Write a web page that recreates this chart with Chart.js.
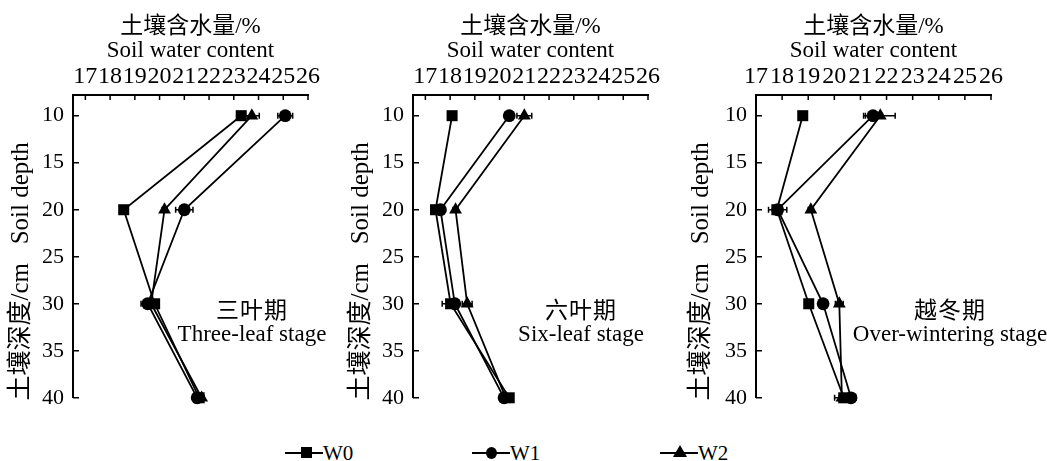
<!DOCTYPE html>
<html>
<head>
<meta charset="utf-8">
<script src="https://cdn.jsdelivr.net/npm/chart.js@4.4.0/dist/chart.umd.min.js"></script>
<style>
  body { margin: 0; background: #fff; }
  #wrap { position: relative; width: 1047px; height: 461px; overflow: hidden;
          font-family: 'Liberation Serif', 'Noto Sans CJK SC', serif; color: #000; }
  .pane { position: absolute; top: 0; height: 420px; }
  .stage { position: absolute; font-size: 23px; line-height: 23px; text-align: center;
           white-space: nowrap; transform: translateX(-50%); }
  .stage .cn { letter-spacing: 1px; }
  .leg { position: absolute; top: 441px; height: 24px; font-size: 21px; line-height: 24px; white-space: nowrap; }
  .leg .ln { position: absolute; top: 11px; left: 0; width: 38px; height: 2px; background: #000; }
  .leg .tx { position: absolute; left: 38px; top: 0; }
  .sq { position: absolute; width: 11px; height: 11px; background: #000; top: 6px; }
  .ci { position: absolute; width: 11px; height: 12px; border-radius: 50%; background: #000; top: 6px; }
  .tr { position: absolute; width: 0; height: 0; border-left: 7px solid transparent;
        border-right: 7px solid transparent; border-bottom: 12px solid #000; top: 4px; }
</style>
</head>
<body>
<div id="wrap">
  <canvas id="c1" class="pane" style="left:0px;width:340px"></canvas>
  <canvas id="c2" class="pane" style="left:340px;width:340px"></canvas>
  <canvas id="c3" class="pane" style="left:680px;width:367px"></canvas>

  <div class="stage" style="left:252px;top:299px"><span class="cn">三叶期</span><br>Three-leaf stage</div>
  <div class="stage" style="left:581px;top:299px"><span class="cn">六叶期</span><br>Six-leaf stage</div>
  <div class="stage" style="left:950px;top:299px"><span class="cn">越冬期</span><br>Over-wintering stage</div>

  <div class="leg" style="left:285px"><span class="ln"></span><span class="sq" style="left:16px"></span><span class="tx">W0</span></div>
  <div class="leg" style="left:472px"><span class="ln"></span><span class="ci" style="left:14px"></span><span class="tx">W1</span></div>
  <div class="leg" style="left:660px"><span class="ln"></span><span class="tr" style="left:13px"></span><span class="tx">W2</span></div>
</div>

<script>
// depth (cm) and tick labels
const depth = [10, 20, 30, 40];
const xTicks = [17, 18, 19, 20, 21, 22, 23, 24, 25, 26];
const yTicks = [10, 15, 20, 25, 30, 35, 40];

// three-leaf stage (soil water content %)
const three_W0 = [23.3, 18.55, 19.8, 21.6];
const three_W1 = [25.08, 21.0, 19.52, 21.52];
const three_W2 = [23.73, 20.2, 19.66, 21.7];
const three_W0_err = [0.1, 0.1, 0.15, 0.1];
const three_W1_err = [0.3, 0.35, 0.27, 0.1];
const three_W2_err = [0.3, 0.1, 0.1, 0.1];

// six-leaf stage
const six_W0 = [18.08, 17.41, 18.02, 20.39];
const six_W1 = [20.39, 17.61, 18.19, 20.18];
const six_W2 = [21.0, 18.22, 18.69, 20.25];
const six_W0_err = [0.1, 0.1, 0.34, 0.1];
const six_W1_err = [0.1, 0.15, 0.1, 0.1];
const six_W2_err = [0.3, 0.1, 0.2, 0.1];

// over-wintering stage
const winter_W0 = [18.79, 17.8, 19.02, 20.36];
const winter_W1 = [21.48, 17.83, 19.57, 20.64];
const winter_W2 = [21.76, 19.1, 20.19, 20.29];
const winter_W0_err = [0.15, 0.1, 0.1, 0.35];
const winter_W1_err = [0.36, 0.35, 0.1, 0.2];
const winter_W2_err = [0.57, 0.1, 0.15, 0.1];

const names = ['W0', 'W1', 'W2'];
const pStyle = ['rect', 'circle', 'triangle'];
const pRadius = [7.8, 6.4, 7.4];
const FONT = "'Liberation Serif', 'Noto Sans CJK SC', serif";

// horizontal error bars, drawn under the markers
const errorBars = {
  id: 'errorBars',
  beforeDatasetsDraw(chart) {
    const ctx = chart.ctx, xs = chart.scales.x, ys = chart.scales.y;
    ctx.save();
    ctx.strokeStyle = '#000';
    ctx.lineWidth = 1.5;
    chart.data.datasets.forEach(ds => {
      ds.errors.forEach((e, i) => {
        const p = ds.data[i];
        const y = ys.getPixelForValue(p.y);
        const x1 = xs.getPixelForValue(p.x - e);
        const x2 = xs.getPixelForValue(p.x + e);
        ctx.beginPath();
        ctx.moveTo(x1, y); ctx.lineTo(x2, y);
        ctx.moveTo(x1, y - 3); ctx.lineTo(x1, y + 3);
        ctx.moveTo(x2, y - 3); ctx.lineTo(x2, y + 3);
        ctx.stroke();
      });
    });
    ctx.restore();
  }
};

// tick marks pointing into the plot
const innerTicks = {
  id: 'innerTicks',
  afterDraw(chart) {
    const {ctx, chartArea: a, scales: {x, y}} = chart;
    ctx.save();
    ctx.strokeStyle = '#000';
    ctx.lineWidth = 1.5;
    ctx.beginPath();
    x.ticks.forEach(t => {
      const px = x.getPixelForValue(t.value);
      ctx.moveTo(px, a.top); ctx.lineTo(px, a.top + 5);
    });
    y.ticks.forEach(t => {
      const py = y.getPixelForValue(t.value);
      ctx.moveTo(a.left, py); ctx.lineTo(a.left + 6, py);
    });
    ctx.stroke();
    ctx.restore();
  }
};

function makeChart(id, xmin, series, errs, leftW, rightPad) {
  const datasets = series.map((vals, k) => ({
    label: names[k],
    data: depth.map((d, i) => ({x: vals[i], y: d})),
    errors: errs[k],
    showLine: true,
    borderColor: '#000',
    backgroundColor: '#000',
    borderWidth: 1.8,
    pointStyle: pStyle[k],
    pointRadius: pRadius[k],
    pointBorderWidth: 0,
    clip: false
  }));

  return new Chart(document.getElementById(id), {
    type: 'scatter',
    data: {datasets: datasets},
    options: {
      responsive: false,
      animation: false,
      layout: {padding: {left: 0, top: 0, right: rightPad, bottom: 19}},
      plugins: {legend: {display: false}, tooltip: {enabled: false}},
      scales: {
        x: {
          type: 'linear', position: 'top', min: xmin, max: 26,
          afterBuildTicks(s) { s.ticks = xTicks.map(v => ({value: v})); },
          afterFit(s) { s.height = 95; },
          ticks: {autoSkip: false, maxRotation: 0, minRotation: 0, padding: 4, color: '#000',
                  font: {family: FONT, size: 24}},
          grid: {display: false, drawTicks: false},
          border: {display: true, color: '#000', width: 2},
          title: {display: true, text: ['土壤含水量/%', 'Soil water content'], color: '#000',
                  font: {family: FONT, size: 23, lineHeight: 1.05}, padding: {top: 15, bottom: 0}}
        },
        y: {
          type: 'linear', reverse: true, min: 7.8, max: 40,
          afterBuildTicks(s) { s.ticks = yTicks.map(v => ({value: v})); },
          afterFit(s) { s.width = leftW; },
          ticks: {autoSkip: false, padding: 9, color: '#000', font: {family: FONT, size: 22}},
          grid: {display: false, drawTicks: false},
          border: {display: true, color: '#000', width: 2},
          title: {display: true, text: '土壤深度/cm   Soil depth        ', color: '#000',
                  font: {family: FONT, size: 25, lineHeight: 1}, padding: {top: 9, bottom: 0}}
        }
      }
    },
    plugins: [errorBars, innerTicks]
  });
}

function sizeCanvas(id, w) {
  const c = document.getElementById(id);
  c.width = w; c.height = 420;
}
sizeCanvas('c1', 340); sizeCanvas('c2', 340); sizeCanvas('c3', 367);

makeChart('c1', 16.5, [three_W0, three_W1, three_W2], [three_W0_err, three_W1_err, three_W2_err], 73, 32);
makeChart('c2', 16.5, [six_W0, six_W1, six_W2], [six_W0_err, six_W1_err, six_W2_err], 73, 32);
makeChart('c3', 17, [winter_W0, winter_W1, winter_W2], [winter_W0_err, winter_W1_err, winter_W2_err], 76, 56);
</script>
</body>
</html>
